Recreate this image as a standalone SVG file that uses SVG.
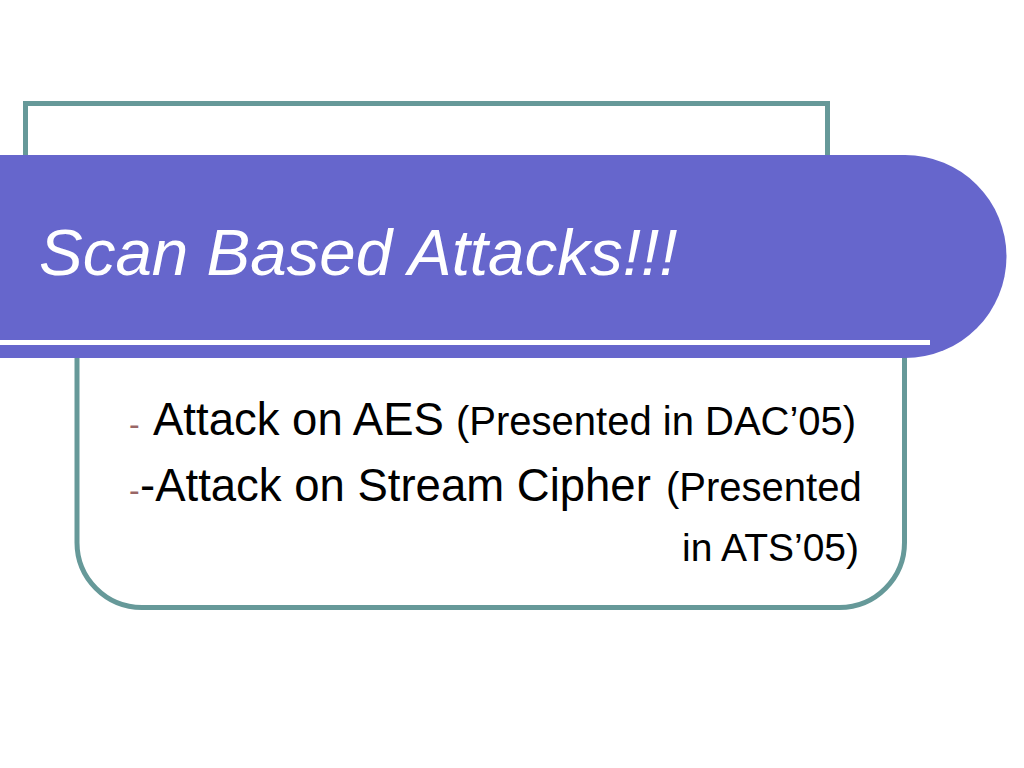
<svg xmlns="http://www.w3.org/2000/svg" width="1024" height="768" viewBox="0 0 1024 768">
<style>
.frame{fill:none;stroke:#669999;stroke-width:5}
.t{font-family:"Liberation Sans",Arial,sans-serif;fill:#000}
.bul{fill:#996666;font-size:32px}
.big{font-size:45.5px}
.small{font-size:40px}
</style>
<rect x="0" y="0" width="1024" height="768" fill="#fff"/>
<g id="top-frame">
<rect class="frame" x="25.5" y="103.5" width="802" height="160" fill="#fff"/>
</g>
<g id="content-box">
<path class="frame" d="M77,330 V542 A65,65 0 0 0 142,607.5 H839.5 A65,65 0 0 0 904.5,542 V330"/>
</g>
<g id="title-band">
<path d="M0,155 H905 A101.5,101.5 0 0 1 905,358 H0 Z" fill="#6666CC"/>
<rect x="0" y="340" width="930" height="5" fill="#fff"/>
<text x="39" y="275" font-family="'Liberation Sans',Arial,sans-serif" font-style="italic" font-size="65.5" fill="#fff">Scan Based Attacks!!!</text>
</g>
<g id="bullets">
<text class="t" y="435"><tspan class="bul" x="129">-</tspan><tspan class="big" x="153">Attack on AES</tspan><tspan class="small" x="456">(Presented in DAC’05)</tspan></text>
<text class="t" y="501"><tspan class="bul" x="129">-</tspan><tspan class="big" x="140">-Attack on Stream Cipher</tspan><tspan class="small" x="666">(Presented</tspan></text>
<text class="t" x="859" y="561" text-anchor="end" font-size="39">in ATS’05)</text>
</g>
</svg>
